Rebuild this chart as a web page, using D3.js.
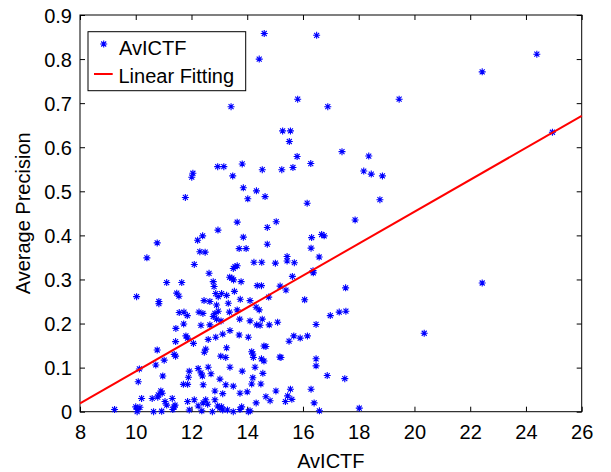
<!DOCTYPE html>
<html>
<head>
<meta charset="utf-8">
<script src="https://cdn.jsdelivr.net/npm/d3@7"></script>
<style>
  html, body { margin: 0; padding: 0; background: #fff; }
  svg { display: block; }
  text { font-family: "Liberation Sans", Arial, Helvetica, sans-serif; fill: #000; }
</style>
</head>
<body>
<svg id="chart" width="611" height="472"></svg>
<script>
// ---- data ----
const avictf = [
14.61,14.43,13.42,15.81,16.49,24.39,22.43,19.45,16.89,15.27,
15.55,15.51,15.79,17.40,18.36,14.54,15.24,15.64,16.28,18.18,
18.45,18.85,14.33,14.64,16.15,18.76,24.95,12.94,13.16,13.82,
12.05,12.01,13.48,13.86,14.02,11.78,13.64,15.04,14.72,12.95,
12.40,12.22,10.77,13.86,14.72,13.71,13.96,12.30,12.49,10.40,
16.31,16.67,16.76,16.29,17.87,16.58,14.24,14.52,15.01,15.43,
15.43,15.69,16.36,16.37,15.62,14.36,14.51,15.18,15.39,17.53,
14.77,16.06,14.10,14.32,14.43,22.43,16.98,17.30,17.54,14.54,
14.10,14.34,14.46,14.79,15.09,16.47,15.67,15.90,16.16,15.50,
14.60,14.67,20.35,14.20,14.22,14.16,14.51,14.60,15.17,15.21,
16.47,16.47,14.28,14.56,16.87,17.50,14.20,14.49,14.16,15.03,
15.55,16.29,14.67,14.82,15.45,15.60,15.37,14.32,16.40,16.59,
18.02,14.10,
13.56,13.64,13.50,13.37,13.45,13.51,13.78,13.54,13.08,13.26,
13.75,13.32,13.36,13.64,13.73,13.06,13.38,13.12,13.71,14.04,
13.26,13.23,13.38,13.82,13.02,13.23,13.50,13.12,13.74,14.00,
13.08,13.12,13.29,13.50,13.74,13.80,14.04,
12.10,12.63,12.78,12.81,11.11,11.65,11.47,11.55,12.87,12.96,
10.03,10.83,10.83,12.45,12.66,12.90,11.56,11.73,11.85,12.27,
12.41,12.84,12.96,12.78,12.90,11.44,11.72,12.34,12.66,11.80,
11.86,11.43,12.07,12.60,12.87,12.51,12.46,10.77,11.38,11.43,
13.05,11.02,10.13,10.72,11.92,12.24,12.34,12.39,12.60,12.70,
10.97,11.89,10.09,11.86,11.71,12.42,12.84,10.90,10.95,10.81,
10.79,10.21,10.59,11.31,11.05,11.11,11.41,11.38,11.86,12.10,
12.42,12.51,12.58,12.84,12.94,13.02,12.24,10.00,10.07,10.05,
10.15,10.64,10.93,11.33,11.92,12.37,12.75,9.24
];
const precision = [
0.858,0.800,0.692,0.709,0.854,0.811,0.771,0.709,0.692,0.637,
0.637,0.613,0.579,0.590,0.580,0.549,0.549,0.554,0.563,0.546,
0.539,0.535,0.501,0.488,0.473,0.481,0.634,0.556,0.556,0.562,
0.541,0.532,0.535,0.508,0.483,0.486,0.430,0.431,0.418,0.412,
0.399,0.389,0.383,0.396,0.380,0.370,0.370,0.363,0.362,0.349,
0.395,0.402,0.399,0.371,0.435,0.351,0.339,0.339,0.337,0.352,
0.342,0.338,0.320,0.315,0.307,0.286,0.286,0.285,0.276,0.281,
0.260,0.254,0.252,0.237,0.231,0.292,0.218,0.226,0.228,0.210,
0.206,0.197,0.196,0.197,0.203,0.198,0.172,0.167,0.172,0.160,
0.149,0.148,0.178,0.131,0.123,0.136,0.120,0.115,0.124,0.123,
0.120,0.104,0.101,0.087,0.082,0.075,0.077,0.063,0.063,0.047,
0.051,0.051,0.034,0.025,0.036,0.028,0.023,0.020,0.020,0.002,
0.008,0.002,
0.329,0.331,0.325,0.305,0.303,0.299,0.295,0.273,0.268,0.264,
0.255,0.246,0.226,0.231,0.210,0.206,0.184,0.176,0.174,0.169,
0.145,0.123,0.101,0.092,0.074,0.061,0.058,0.041,0.042,0.045,
0.011,0.004,0.004,0.000,0.005,0.011,0.000,
0.334,0.314,0.295,0.284,0.293,0.293,0.269,0.262,0.268,0.261,
0.261,0.250,0.245,0.252,0.250,0.242,0.225,0.226,0.218,0.226,
0.223,0.223,0.228,0.216,0.210,0.189,0.199,0.196,0.197,0.172,
0.167,0.159,0.155,0.164,0.169,0.142,0.135,0.140,0.130,0.126,
0.126,0.117,0.097,0.106,0.092,0.098,0.088,0.081,0.101,0.086,
0.081,0.078,0.068,0.062,0.062,0.061,0.047,0.047,0.042,0.038,
0.033,0.030,0.030,0.030,0.023,0.015,0.015,0.011,0.023,0.027,
0.020,0.027,0.017,0.027,0.013,0.008,0.013,0.011,0.005,0.000,
0.010,0.000,0.001,0.005,0.004,0.002,0.000,0.005
];
const fitX = [8, 26];
const fitY = [0.019, 0.671];
const xTicks = [8, 10, 12, 14, 16, 18, 20, 22, 24, 26];
const yTicks = [0, 0.1, 0.2, 0.3, 0.4, 0.5, 0.6, 0.7, 0.8, 0.9];
const yTickLabels = ["0", "0.1", "0.2", "0.3", "0.4", "0.5", "0.6", "0.7", "0.8", "0.9"];
const seriesNames = ["AvICTF", "Linear Fitting"];
const xTitle = "AvICTF";
const yTitle = "Average Precision";

// ---- layout ----
const L = 80, R = 581.7, T = 15, B = 411.7;
const FS = 20;
const svg = d3.select("#chart");
const x = d3.scaleLinear().domain([8, 26]).range([L, R]);
const y = d3.scaleLinear().domain([0, 0.9]).range([B, T]);

svg.append("rect").attr("x", 0).attr("y", 0).attr("width", 611).attr("height", 472).attr("fill", "#fff");

// axes with inward ticks
const tickLen = 5;
const gx = svg.append("g").attr("transform", `translate(0,${B})`)
  .call(d3.axisBottom(x).tickValues(xTicks).tickSizeInner(-tickLen).tickSizeOuter(0).tickPadding(13.5).tickFormat(d3.format("d")));
const gy = svg.append("g").attr("transform", `translate(${L},0)`)
  .call(d3.axisLeft(y).tickValues(yTicks).tickSizeInner(-tickLen).tickSizeOuter(0).tickPadding(8)
    .tickFormat((d, i) => yTickLabels[i]));
const gt = svg.append("g").attr("transform", `translate(0,${T})`)
  .call(d3.axisTop(x).tickValues(xTicks).tickSizeInner(-tickLen).tickSizeOuter(0).tickFormat(""));
const gr = svg.append("g").attr("transform", `translate(${R},0)`)
  .call(d3.axisRight(y).tickValues(yTicks).tickSizeInner(-tickLen).tickSizeOuter(0).tickFormat(""));
[gx, gy, gt, gr].forEach(g => {
  g.select(".domain").remove();
  g.selectAll("line").attr("stroke", "#000").attr("stroke-width", 1);
  g.selectAll("text").attr("font-size", FS).attr("font-family", "Liberation Sans, Arial, sans-serif").attr("fill", "#000");
});
gy.selectAll("text").attr("dy", "0.36em");

// frame
svg.append("rect").attr("x", L).attr("y", T).attr("width", R - L).attr("height", B - T)
  .attr("fill", "none").attr("stroke", "#000").attr("stroke-width", 1);

// star marker path
const r = 3.5, dd = 2.5;
const star = `M${-r},0H${r}M0,${-r}V${r}M${-dd},${-dd}L${dd},${dd}M${-dd},${dd}L${dd},${-dd}`;

// scatter
const pts = avictf.map((v, i) => [v, precision[i]]);
svg.append("g").selectAll("path").data(pts).join("path")
  .attr("d", star)
  .attr("transform", d => `translate(${x(d[0])},${y(d[1])})`)
  .attr("stroke", "#0000ff").attr("stroke-width", 1.1).attr("fill", "none");

// fit line
const line = d3.line().x(d => x(d[0])).y(d => y(d[1]));
svg.append("path").datum(fitX.map((v, i) => [v, fitY[i]]))
  .attr("d", line).attr("stroke", "#ff0000").attr("stroke-width", 2).attr("fill", "none");

// legend
const lg = svg.append("g");
lg.append("rect").attr("x", 88).attr("y", 31.7).attr("width", 157.7).attr("height", 59)
  .attr("fill", "#fff").attr("stroke", "#000").attr("stroke-width", 1);
lg.append("path").attr("d", star).attr("transform", "translate(103.7,44)")
  .attr("stroke", "#0000ff").attr("stroke-width", 1.1).attr("fill", "none");
lg.append("text").attr("x", 119).attr("y", 55).attr("font-size", FS).text(seriesNames[0]);
lg.append("line").attr("x1", 94).attr("x2", 112.7).attr("y1", 74).attr("y2", 74)
  .attr("stroke", "#ff0000").attr("stroke-width", 2);
lg.append("text").attr("x", 118.5).attr("y", 83).attr("font-size", FS).text(seriesNames[1]);

// titles
svg.append("text").attr("x", (L + R) / 2).attr("y", 468).attr("text-anchor", "middle")
  .attr("font-size", FS).text(xTitle);
svg.append("text").attr("transform", `translate(30,${(T + B) / 2}) rotate(-90)`)
  .attr("text-anchor", "middle").attr("font-size", FS).text(yTitle);
</script>
</body>
</html>
